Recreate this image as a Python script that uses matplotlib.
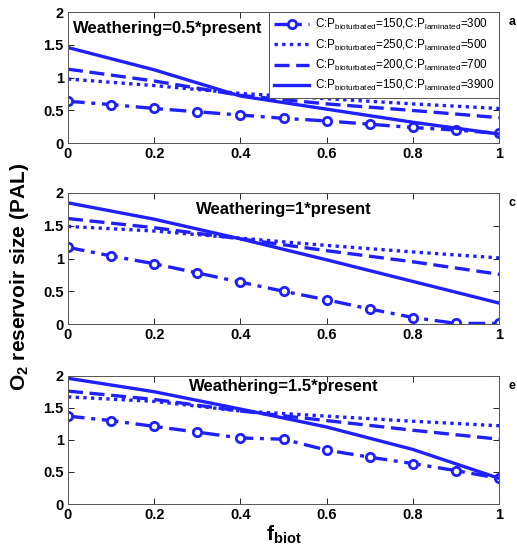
import matplotlib
matplotlib.use("Agg")
import matplotlib.pyplot as plt
import numpy as np

plt.rcParams["font.family"] = ["Liberation Sans", "DejaVu Sans"]
plt.rcParams["mathtext.default"] = "regular"

# f_biot
f_biot = [0.0, 0.1, 0.2, 0.3, 0.4, 0.5, 0.6, 0.7, 0.8, 0.9, 1.0]
f_coarse = [0.0, 0.2, 0.4, 0.6, 0.8, 1.0]

# painel a: intemperismo 0.5x
a_150_300 = [0.64, 0.59, 0.53, 0.48, 0.43, 0.38, 0.34, 0.29, 0.24, 0.20, 0.15]
a_250_500 = [0.98, 0.88, 0.76, 0.68, 0.60, 0.53]
a_200_700 = [1.13, 0.95, 0.73, 0.60, 0.50, 0.39]
a_150_3900 = [1.46, 1.12, 0.72, 0.52, 0.32, 0.14]

# painel c: intemperismo 1x
c_150_300 = [1.17, 1.04, 0.92, 0.78, 0.64, 0.50, 0.37, 0.23, 0.10, 0.01, 0.01]
c_250_500 = [1.49, 1.42, 1.31, 1.20, 1.10, 1.01]
c_200_700 = [1.61, 1.47, 1.30, 1.12, 0.95, 0.76]
c_150_3900 = [1.85, 1.60, 1.30, 0.98, 0.65, 0.32]

# painel e: intemperismo 1.5x
e_150_300 = [1.37, 1.30, 1.21, 1.12, 1.03, 1.01, 0.84, 0.73, 0.63, 0.52, 0.40]
e_250_500 = [1.67, 1.60, 1.45, 1.37, 1.29, 1.22]
e_200_700 = [1.76, 1.63, 1.45, 1.30, 1.15, 1.01]
e_150_3900 = [1.96, 1.75, 1.48, 1.20, 0.85, 0.40]

labels = [
    "C:P$_{bioturbated}$=150,C:P$_{laminated}$=300",
    "C:P$_{bioturbated}$=250,C:P$_{laminated}$=500",
    "C:P$_{bioturbated}$=200,C:P$_{laminated}$=700",
    "C:P$_{bioturbated}$=150,C:P$_{laminated}$=3900",
]
titles = ["Weathering=0.5*present", "Weathering=1*present", "Weathering=1.5*present"]
letras = ["a", "c", "e"]
paineis = [
    (a_150_300, a_250_500, a_200_700, a_150_3900),
    (c_150_300, c_250_500, c_200_700, c_150_3900),
    (e_150_300, e_250_500, e_200_700, e_150_3900),
]
title_y = [0.93, 0.93, 0.975]

azul = "#1f1fff"
fig = plt.figure(figsize=(5.17, 5.53), dpi=100)
posicoes = [
    [0.1315, 0.741, 0.834, 0.237],
    [0.1315, 0.414, 0.834, 0.237],
    [0.1315, 0.0886, 0.834, 0.232],
]

for i, (s1, s2, s3, s4) in enumerate(paineis):
    ax = fig.add_axes(posicoes[i])
    ax.plot(f_biot, s1, color=azul, lw=2.4, ls=(0, (5, 2, 1.2, 2)), marker="o",
            ms=6, mfc="white", mec=azul, mew=2, label=labels[0])
    ax.plot(f_coarse, s2, color=azul, lw=2.4, ls=(0, (1, 1.3)), label=labels[1])
    ax.plot(f_coarse, s3, color=azul, lw=2.4, ls=(0, (4.5, 2)), label=labels[2])
    ax.plot(f_coarse, s4, color=azul, lw=2.4, ls="-", label=labels[3])

    ax.set_xlim(0, 1)
    ax.set_ylim(0, 2)
    ax.set_xticks(np.arange(0, 1.01, 0.2))
    ax.set_xticklabels(["0", "0.2", "0.4", "0.6", "0.8", "1"])
    ax.set_yticks([0, 0.5, 1, 1.5, 2])
    ax.set_yticklabels(["0", "0.5", "1", "1.5", "2"])
    ax.tick_params(direction="in", top=True, right=True, length=4, width=0.6,
                   labelsize=10.5, pad=3)
    for lab in ax.get_xticklabels() + ax.get_yticklabels():
        lab.set_fontweight("bold")
    for sp in ax.spines.values():
        sp.set_linewidth(0.7)
        sp.set_color("#555555")

    if i == 0:
        ax.text(0.012, title_y[i], titles[i], transform=ax.transAxes, fontsize=12,
                fontweight="bold", va="top", ha="left")
        leg = ax.legend(loc="upper right", fontsize=8.4, handlelength=3.0,
                        fancybox=False, framealpha=1, edgecolor="#555555",
                        borderaxespad=0, labelspacing=0.45, borderpad=0.42,
                        handletextpad=0.5)
        leg.get_frame().set_linewidth(0.7)
    else:
        ax.text(0.5, title_y[i], titles[i], transform=ax.transAxes, fontsize=12,
                fontweight="bold", va="top", ha="center")

    ax.text(1.022, 0.97, letras[i], transform=ax.transAxes, fontsize=9,
            fontweight="bold", va="top", ha="left")

    if i == 2:
        ax.set_xlabel("f$_{biot}$", fontsize=15, fontweight="bold", labelpad=1)

fig.text(0.038, 0.5, "O$_2$ reservoir size (PAL)", rotation=90, fontsize=15,
         fontweight="bold", va="center", ha="center")

plt.savefig("out.png", dpi=100)
